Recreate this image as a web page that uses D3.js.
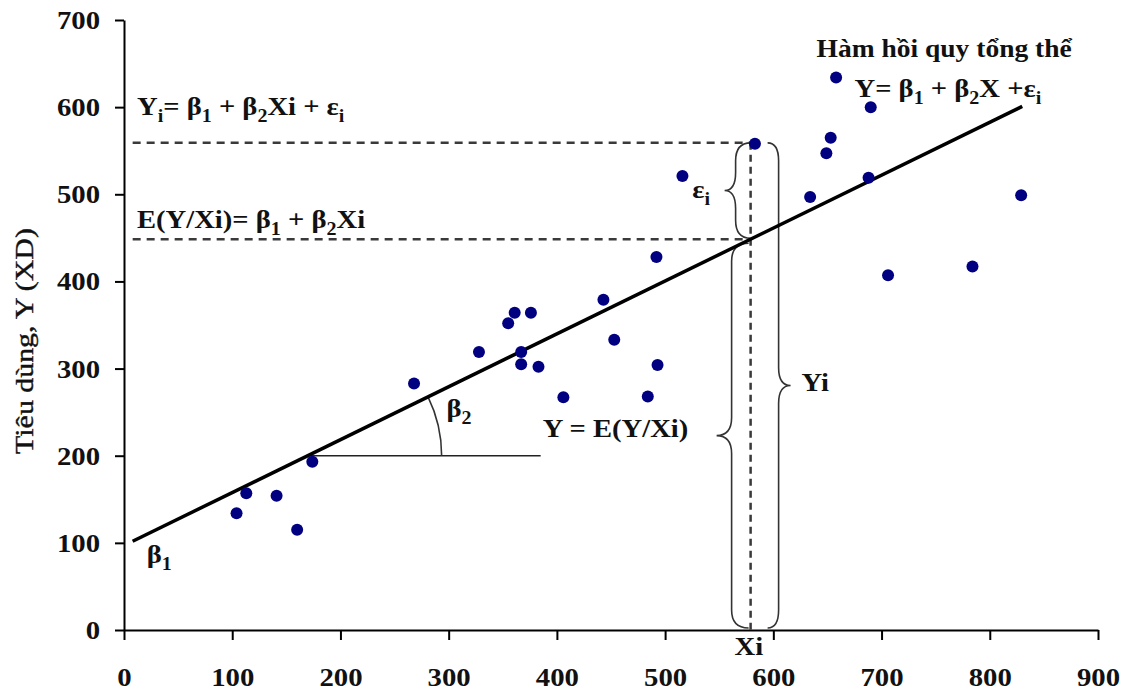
<!DOCTYPE html>
<html>
<head>
<meta charset="utf-8">
<script src="https://cdn.jsdelivr.net/npm/d3@7"></script>
<style>
  body { margin: 0; background: white; }
  text { font-family: "Liberation Serif", "Times New Roman", serif; fill: #111; }
</style>
</head>
<body>
<div id="chart"></div>
<script>
// quan sát: thu nhập X, tiêu dùng Y
var incomeX = [104, 113, 141, 160, 174, 268, 328, 355, 361, 376, 367, 367, 383, 406, 443, 453,
               484, 493, 492, 516, 583, 634, 649, 653, 658, 690, 688, 706, 784, 829];
var consumptionY = [134, 157, 154, 115, 193, 283, 319, 352, 364, 364, 319, 305, 302, 267, 379, 333,
                    268, 304, 428, 521, 558, 497, 547, 565, 634, 600, 519, 407, 417, 499];
var xTicks = [0, 100, 200, 300, 400, 500, 600, 700, 800, 900];
var yTicks = [0, 100, 200, 300, 400, 500, 600, 700];

// hàm hồi quy tổng thể E(Y/X) = b1 + b2 X
var beta1 = 97, beta2 = 0.607;
var lineFromTo = [8, 830];
var xi = 579, yi = 559;
var beta2Base = [200, 385];   // y level of the angle base, x end

var width = 1128, height = 691;
var margin = {top: 20, right: 30, bottom: 61, left: 124};
var stretch = 1.1;

var svg = d3.select("#chart").append("svg")
  .attr("width", width).attr("height", height)
  .style("background", "white");

var x = d3.scaleLinear().domain([0, 900]).range([margin.left, width - margin.right]);
var y = d3.scaleLinear().domain([0, 700]).range([height - margin.bottom, margin.top]);

// axes
var xAxis = svg.append("g")
  .attr("transform", "translate(0," + y(0) + ")")
  .call(d3.axisBottom(x).tickValues(xTicks).tickSize(10).tickSizeOuter(0));
var yAxis = svg.append("g")
  .attr("transform", "translate(" + x(0) + ",0)")
  .call(d3.axisLeft(y).tickValues(yTicks).tickSize(9).tickSizeOuter(0));

[xAxis, yAxis].forEach(function (g) {
  g.select(".domain").attr("stroke", "#000").attr("stroke-width", 2);
  g.selectAll(".tick line").attr("stroke", "#000").attr("stroke-width", 2);
  g.selectAll(".tick text")
    .attr("font-family", "'Liberation Serif', 'Times New Roman', serif")
    .attr("font-size", 25).attr("font-weight", "bold").attr("fill", "#111");
});
xAxis.selectAll(".tick text").attr("y", 56).attr("dy", 0)
  .attr("transform", "scale(1.15,1)");
yAxis.selectAll(".tick text").attr("x", -24 / 1.15).attr("dy", "0.34em")
  .attr("transform", "scale(1.15,1)");

// y axis title
svg.append("text")
  .attr("transform", "translate(33," + (y(350) + 16) + ") rotate(-90) scale(1.15,1)")
  .attr("text-anchor", "middle")
  .attr("font-size", 26)
  .attr("stroke", "#111").attr("stroke-width", 0.4)
  .text("Tiêu dùng, Y (XD)");

// dashed guide lines
var eyi = beta1 + beta2 * xi;
var guides = [
  {x1: 8, y1: yi, x2: xi, y2: yi, dash: "8,6"},
  {x1: 8, y1: eyi, x2: xi, y2: eyi, dash: "8,6"},
  {x1: xi, y1: yi, x2: xi, y2: 0, dash: "7,5"}
];
svg.selectAll("line.guide").data(guides).enter().append("line")
  .attr("class", "guide")
  .attr("x1", function (d) { return x(d.x1); })
  .attr("y1", function (d) { return y(d.y1); })
  .attr("x2", function (d) { return x(d.x2); })
  .attr("y2", function (d) { return y(d.y2); })
  .attr("stroke", "#3a3a3a").attr("stroke-width", 2.5)
  .attr("stroke-dasharray", function (d) { return d.dash; });

// braces
function bracePath(x0, y1, y2, dir, stem, tip) {
  var xs = x0 + dir * stem, xt = x0 + dir * tip, ym = (y1 + y2) / 2;
  var r = Math.min(18, (y2 - y1) / 4);
  return "M" + x0 + "," + y1 +
    " Q" + xs + "," + y1 + " " + xs + "," + (y1 + r) +
    " L" + xs + "," + (ym - r) +
    " Q" + xs + "," + ym + " " + xt + "," + ym +
    " Q" + xs + "," + ym + " " + xs + "," + (ym + r) +
    " L" + xs + "," + (y2 - r) +
    " Q" + xs + "," + y2 + " " + x0 + "," + y2;
}
var braces = [
  {x0: x(xi), y1: y(yi), y2: y(eyi) - 1, dir: -1, stem: 15, tip: 26},
  {x0: x(xi) - 2, y1: y(eyi) + 4, y2: y(0) - 2, dir: -1, stem: 17, tip: 32},
  {x0: x(xi) + 17, y1: y(yi), y2: y(0) - 2, dir: 1, stem: 11, tip: 23}
];
svg.selectAll("path.brace").data(braces).enter().append("path")
  .attr("class", "brace")
  .attr("d", function (d) { return bracePath(d.x0, d.y1, d.y2, d.dir, d.stem, d.tip); })
  .attr("fill", "none").attr("stroke", "#333").attr("stroke-width", 1.6);

// beta2 angle
var bx0 = (beta2Base[0] - beta1) / beta2;
var cx = x(bx0), cy = y(beta2Base[0]);
svg.append("line")
  .attr("x1", cx).attr("y1", cy).attr("x2", x(beta2Base[1])).attr("y2", cy)
  .attr("stroke", "#222").attr("stroke-width", 1.6);
var theta = Math.atan2(y(beta1 + beta2 * lineFromTo[0]) - y(beta1 + beta2 * lineFromTo[1]),
                       x(lineFromTo[1]) - x(lineFromTo[0]));
var rad = 134;
svg.append("path")
  .attr("d", "M" + (cx + rad * Math.cos(theta)) + "," + (cy - rad * Math.sin(theta)) +
    " A" + rad + "," + rad + " 0 0 1 " + (cx + rad) + "," + cy)
  .attr("fill", "none").attr("stroke", "#333").attr("stroke-width", 1.6);

// regression line
svg.append("line")
  .attr("x1", x(lineFromTo[0])).attr("y1", y(beta1 + beta2 * lineFromTo[0]))
  .attr("x2", x(lineFromTo[1])).attr("y2", y(beta1 + beta2 * lineFromTo[1]))
  .attr("stroke", "#000").attr("stroke-width", 3.5);

// observations
svg.selectAll("circle.obs").data(incomeX).enter().append("circle")
  .attr("class", "obs")
  .attr("cx", function (d) { return x(d); })
  .attr("cy", function (d, i) { return y(consumptionY[i]); })
  .attr("r", 6)
  .attr("fill", "#000080");

// annotations
function label(parts, px, py, size) {
  var t = svg.append("text")
    .attr("transform", "translate(" + px + "," + py + ") scale(" + stretch + ",1)")
    .attr("font-size", size || 26).attr("font-weight", "bold");
  var shifted = false;
  parts.forEach(function (p) {
    var isSub = typeof p !== "string";
    var s = t.append("tspan").text(isSub ? p.sub : p);
    if (isSub) {
      s.attr("font-size", "70%").attr("dy", shifted ? 0 : 7);
      shifted = true;
    } else if (shifted) {
      s.attr("dy", -7);
      shifted = false;
    }
  });
  return t;
}

label(["Y", {sub: "i"}, "= β", {sub: "1"}, " + β", {sub: "2"}, "Xi + ε", {sub: "i"}], x(12), y(591));
label(["E(Y/Xi)= β", {sub: "1"}, " + β", {sub: "2"}, "Xi"], x(12), y(461));
label(["ε", {sub: "i"}], x(525), y(496));
label(["Hàm hồi quy tổng thể"], x(640), y(658), 25);
label(["Y= β", {sub: "1"}, " + β", {sub: "2"}, "X +ε", {sub: "i"}], x(675), y(612));
label(["β", {sub: "1"}], x(21), y(77));
label(["β", {sub: "2"}], x(298), y(244));
label(["Y = E(Y/Xi)"], x(387), y(221));
label(["Yi"], x(626), y(274));
label(["Xi"], x(xi) - 16, y(0) + 25);
</script>
</body>
</html>
